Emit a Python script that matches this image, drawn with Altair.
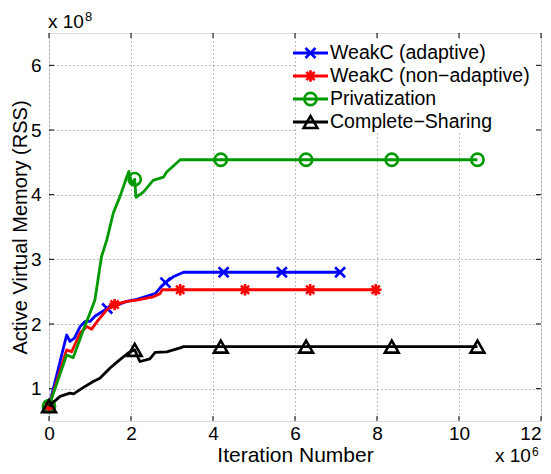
import altair as alt
import pandas as pd

# ---------------- data (x in units of 1e6 iterations, y in units of 1e8 bytes) ----------------
series_names = ["WeakC (adaptive)", "WeakC (non−adaptive)", "Privatization", "Complete−Sharing"]

blue_x = [0, 0.43, 0.51, 0.62, 0.76, 0.88, 1.0, 1.12, 1.42, 1.9, 2.14, 2.59, 2.71, 2.84, 3.03, 3.28, 4.26, 5.68, 7.1]
blue_y = [0.73, 1.83, 1.73, 1.78, 1.96, 2.04, 2.04, 2.12, 2.24, 2.35, 2.38, 2.47, 2.56, 2.64, 2.73, 2.80, 2.80, 2.80, 2.80]
blue_marks = [0, 8, 13, 16, 17, 18]

red_x = [0, 0.43, 0.55, 0.76, 0.92, 1.04, 1.2, 1.41, 1.6, 1.9, 2.14, 2.54, 2.71, 2.76, 3.2, 4.78, 6.37, 7.97]
red_y = [0.73, 1.60, 1.57, 1.86, 1.96, 1.92, 2.06, 2.22, 2.30, 2.35, 2.37, 2.42, 2.47, 2.53, 2.53, 2.53, 2.53, 2.53]
red_marks = [0, 8, 14, 15, 16, 17]

green_x = [0, 0.43, 0.59, 0.84, 1.0, 1.12, 1.28, 1.41, 1.57, 1.73, 1.9, 1.95, 2.02, 2.09, 2.12, 2.3, 2.54, 2.79, 2.87, 3.2, 4.19, 6.27, 8.36, 10.45]
green_y = [0.73, 1.52, 1.48, 1.91, 2.17, 2.37, 3.04, 3.30, 3.72, 3.97, 4.28, 4.36, 4.16, 4.24, 3.96, 4.04, 4.22, 4.27, 4.35, 4.54, 4.54, 4.54, 4.54, 4.54]
green_marks = [0, 13, 20, 21, 22, 23]

black_x = [0, 0.27, 0.51, 0.6, 0.84, 1.08, 1.24, 1.49, 1.73, 1.93, 2.09, 2.18, 2.22, 2.46, 2.59, 2.87, 3.2, 3.28, 4.19, 6.27, 8.36, 10.45]
black_y = [0.73, 0.88, 0.93, 0.92, 1.02, 1.11, 1.16, 1.32, 1.45, 1.55, 1.60, 1.47, 1.42, 1.46, 1.56, 1.57, 1.63, 1.65, 1.65, 1.65, 1.65, 1.65]
black_marks = [0, 10, 18, 19, 20, 21]

x_ticks = [0, 2, 4, 6, 8, 10, 12]
y_ticks = [1, 2, 3, 4, 5, 6]
x_domain = [0, 12]
y_domain = [0.5, 6.5]

# ---------------- style ----------------
W, H = 492, 388
FONT = "Liberation Sans"
colors = ["#0000ff", "#ff0000", "#009a00", "#000000"]
shapes = [
    "M-1,-1L1,1M-1,1L1,-1",
    "M0,-1L0,1M-1,0L1,0M-0.72,-0.72L0.72,0.72M-0.72,0.72L0.72,-0.72",
    "circle",
    "triangle-up",
]
sizes = [100, 130, 150, 190]

xs = alt.Scale(domain=x_domain, nice=False, zero=False)
ys = alt.Scale(domain=y_domain, nice=False, zero=False)

all_x = [blue_x, red_x, green_x, black_x]
all_y = [blue_y, red_y, green_y, black_y]
all_m = [blue_marks, red_marks, green_marks, black_marks]

layers = []

# base layer carrying axes / grid
axis_df = pd.DataFrame({"x": x_domain, "y": y_domain})
last_x = x_ticks[-1]
base = alt.Chart(axis_df).mark_point(opacity=0).encode(
    x=alt.X("x:Q", scale=xs, axis=alt.Axis(
        values=x_ticks, format="d", title="Iteration Number", grid=True, ticks=False, domain=False,
        labelFontSize=19, labelPadding=3, labelColor="black", labelFont=FONT, labelFlush=False,
        labelAlign={"expr": f"datum.value == {last_x} ? 'right' : 'center'"},
        titleFontSize=21, titleFontWeight="normal", titleColor="black", titleFont=FONT,
        titleBaseline="alphabetic", titleY=40.5,
        gridDash=[1, 3], gridColor="#777777", gridWidth=1)),
    y=alt.Y("y:Q", scale=ys, axis=alt.Axis(
        values=y_ticks, format="d", title="Active Virtual Memory (RSS)", grid=True, ticks=False, domain=False,
        labelFontSize=19, labelPadding=8, labelColor="black", labelFont=FONT, labelFlush=False,
        titleFontSize=20, titleFontWeight="normal", titleColor="black", titleFont=FONT,
        titleBaseline="alphabetic", titleX=-22.5,
        gridDash=[1, 3], gridColor="#777777", gridWidth=1)),
)
layers.append(base)

# legend background box (white, hides grid)
legend_bg = alt.Chart(axis_df.head(1)).mark_rect(color="white").encode(
    x=alt.value(248), x2=alt.value(490), y=alt.value(6), y2=alt.value(100))
layers.append(legend_bg)

# inner ticks (MATLAB style) on four sides
xt = pd.DataFrame({"v": x_ticks})
yt = pd.DataFrame({"v": y_ticks})
TL = 5
layers.append(alt.Chart(xt).mark_rule(color="black", strokeWidth=1).encode(
    x=alt.X("v:Q", scale=xs), y=alt.value(H), y2=alt.value(H - TL)))
layers.append(alt.Chart(xt).mark_rule(color="black", strokeWidth=1).encode(
    x=alt.X("v:Q", scale=xs), y=alt.value(0), y2=alt.value(TL)))
layers.append(alt.Chart(yt).mark_rule(color="black", strokeWidth=1).encode(
    y=alt.Y("v:Q", scale=ys), x=alt.value(0), x2=alt.value(TL)))
layers.append(alt.Chart(yt).mark_rule(color="black", strokeWidth=1).encode(
    y=alt.Y("v:Q", scale=ys), x=alt.value(W), x2=alt.value(W - TL)))

# series
for i in range(4):
    df = pd.DataFrame({"x": all_x[i], "y": all_y[i], "i": list(range(len(all_x[i])))})
    mk = df.iloc[all_m[i]]
    layers.append(alt.Chart(df).mark_line(color=colors[i], strokeWidth=2.8, strokeJoin="round").encode(
        x=alt.X("x:Q", scale=xs), y=alt.Y("y:Q", scale=ys), order="i:Q"))
    layers.append(alt.Chart(mk).mark_point(color=colors[i], filled=False, strokeWidth=2.6,
                                           shape=shapes[i], size=sizes[i], opacity=1).encode(
        x=alt.X("x:Q", scale=xs), y=alt.Y("y:Q", scale=ys)))

# legend (drawn manually to get MATLAB-like line+marker samples)
leg = pd.DataFrame({"name": series_names, "row": list(range(4))})
leg["ly"] = 20 + 23 * leg["row"]
for i in range(4):
    r = leg.iloc[[i]]
    layers.append(alt.Chart(r).mark_rule(color=colors[i], strokeWidth=2.8).encode(
        y=alt.Y("ly:Q", scale=None), x=alt.value(244), x2=alt.value(279)))
    layers.append(alt.Chart(r).mark_point(color=colors[i], filled=False, strokeWidth=2.6,
                                          shape=shapes[i], size=sizes[i], opacity=1).encode(
        y=alt.Y("ly:Q", scale=None), x=alt.value(261.5)))
layers.append(alt.Chart(leg).mark_text(align="left", baseline="middle", fontSize=19.5, font=FONT,
                                       color="black").encode(
    y=alt.Y("ly:Q", scale=None), x=alt.value(281), text="name:N"))

# exponent annotations
ann = pd.DataFrame({"t": ["x 10", "8", "x 10", "6"]})
layers.append(alt.Chart(ann.iloc[[0]]).mark_text(align="left", baseline="alphabetic", fontSize=19,
                                                 font=FONT, color="black").encode(
    text="t:N", x=alt.value(-1), y=alt.value(-5)))
layers.append(alt.Chart(ann.iloc[[1]]).mark_text(align="left", baseline="alphabetic", fontSize=13,
                                                 font=FONT, color="black").encode(
    text="t:N", x=alt.value(36), y=alt.value(-12)))
layers.append(alt.Chart(ann.iloc[[2]]).mark_text(align="left", baseline="alphabetic", fontSize=19,
                                                 font=FONT, color="black").encode(
    text="t:N", x=alt.value(446), y=alt.value(429)))
layers.append(alt.Chart(ann.iloc[[3]]).mark_text(align="left", baseline="alphabetic", fontSize=12,
                                                 font=FONT, color="black").encode(
    text="t:N", x=alt.value(483), y=alt.value(422.5)))

chart = alt.layer(*layers).properties(
    width=W, height=H,
    autosize=alt.AutoSizeParams(type="none"),
    padding={"left": 41, "top": 25, "right": 2, "bottom": 45},
    background="white",
).configure_view(stroke="black", strokeWidth=1).configure(font=FONT)

chart.save("out.html", embed_options={"renderer": "svg", "actions": False})
